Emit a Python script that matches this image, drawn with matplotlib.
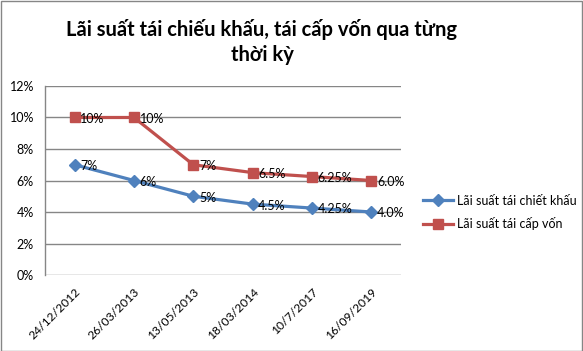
import matplotlib
matplotlib.use("Agg")
import matplotlib.pyplot as plt
from matplotlib.patches import Rectangle

plt.rcParams['font.family'] = ['Lato', 'DejaVu Sans']

categories = ["24/12/2012", "26/03/2013", "13/05/2013", "18/03/2014", "10/7/2017", "16/09/2019"]
discount_rate = [7, 6, 5, 4.5, 4.25, 4.0]
refinance_rate = [10, 10, 7, 6.5, 6.25, 6.0]
discount_labels = ["7%", "6%", "5%", "4.5%", "4.25%", "4.0%"]
refinance_labels = ["10%", "10%", "7%", "6.5%", "6.25%", "6.0%"]
yticks = [0, 2, 4, 6, 8, 10, 12]
ytick_labels = ["0%", "2%", "4%", "6%", "8%", "10%", "12%"]
series_names = ["Lãi suất tái chiết khấu", "Lãi suất tái cấp vốn"]
title = "Lãi suất tái chiếu khấu, tái cấp vốn qua từng\nthời kỳ"

blue = "#4F81BD"
red = "#C0504D"
grid = "#868686"

fig = plt.figure(figsize=(5.83, 3.51), dpi=100)
ax = fig.add_axes([0.0772, 0.2165, 0.6106, 0.5385])

x = list(range(len(categories)))
ax.plot(x, discount_rate, color=blue, lw=2.3, marker='D', ms=6, label=series_names[0])
ax.plot(x, refinance_rate, color=red, lw=2.3, marker='s', ms=7.5, label=series_names[1])

for xi, v, t in zip(x, discount_rate, discount_labels):
    ax.annotate(t, (xi, v), xytext=(4, -1), textcoords='offset points', ha='left', va='center', fontsize=9, color='black')
for xi, v, t in zip(x, refinance_rate, refinance_labels):
    ax.annotate(t, (xi, v), xytext=(4, -1), textcoords='offset points', ha='left', va='center', fontsize=9, color='black')

ax.set_xlim(-0.5, len(categories) - 0.5)
ax.set_ylim(0, 12)
ax.set_yticks(yticks)
ax.set_yticklabels(ytick_labels, fontsize=9)
ax.set_xticks(x)
ax.set_xticklabels(categories, fontsize=8.7, rotation=45, ha='right', rotation_mode='anchor')
ax.tick_params(axis='both', length=0, pad=8)
ax.tick_params(axis='x', pad=8)
ax.yaxis.grid(True, color=grid, lw=1)
ax.set_axisbelow(True)
for s in ['top', 'right', 'bottom']:
    ax.spines[s].set_visible(False)
ax.spines['left'].set_color(grid)
ax.spines['left'].set_linewidth(1)

leg = fig.legend(loc='upper left', bbox_to_anchor=(0.717, 0.46), frameon=False, fontsize=9,
                 handlelength=2.4, handletextpad=0.3, labelspacing=0.85, borderaxespad=0)

fig.text(262 / 583, 1 - 19 / 351, title, ha='center', va='top', fontsize=14.5, fontweight='bold', linespacing=1.32)

fig.patches.append(Rectangle((0.5 / 583, 0.5 / 351), 1 - 1.5 / 583, 1 - 1.5 / 351, transform=fig.transFigure,
                             fill=False, edgecolor=grid, lw=1))

fig.savefig("out.png", dpi=100)
